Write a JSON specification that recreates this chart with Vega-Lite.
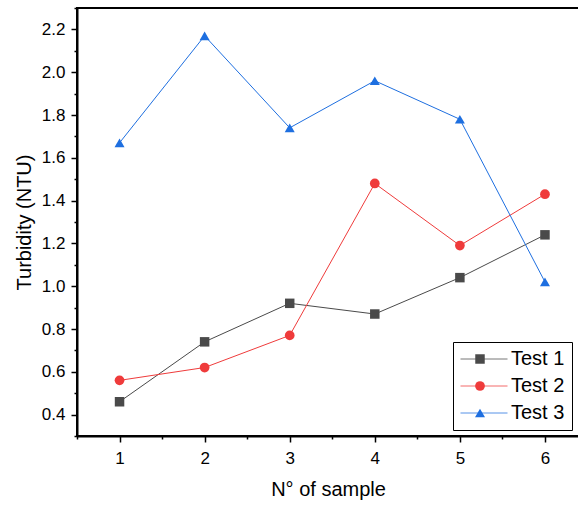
{
  "$schema": "https://vega.github.io/schema/vega-lite/v6.json",
  "width": 502,
  "height": 428,
  "autosize": "none",
  "padding": {"left": 77, "top": 8, "right": 0, "bottom": 70},
  "background": "white",
  "config": {
    "font": "Liberation Sans",
    "view": {"stroke": "black", "strokeWidth": 2},
    "axis": {
      "grid": false,
      "domainColor": "black",
      "domainWidth": 2,
      "tickColor": "black",
      "tickWidth": 1.5,
      "labelColor": "black",
      "labelFontSize": 17,
      "titleColor": "black",
      "titleFontSize": 20,
      "titleFontWeight": "normal"
    }
  },
  "data": {
    "values": [
      {"sample": 1, "series": "Test 1", "turbidity": 0.46},
      {"sample": 2, "series": "Test 1", "turbidity": 0.74},
      {"sample": 3, "series": "Test 1", "turbidity": 0.92},
      {"sample": 4, "series": "Test 1", "turbidity": 0.87},
      {"sample": 5, "series": "Test 1", "turbidity": 1.04},
      {"sample": 6, "series": "Test 1", "turbidity": 1.24},
      {"sample": 1, "series": "Test 2", "turbidity": 0.56},
      {"sample": 2, "series": "Test 2", "turbidity": 0.62},
      {"sample": 3, "series": "Test 2", "turbidity": 0.77},
      {"sample": 4, "series": "Test 2", "turbidity": 1.48},
      {"sample": 5, "series": "Test 2", "turbidity": 1.19},
      {"sample": 6, "series": "Test 2", "turbidity": 1.43},
      {"sample": 1, "series": "Test 3", "turbidity": 1.67},
      {"sample": 2, "series": "Test 3", "turbidity": 2.17},
      {"sample": 3, "series": "Test 3", "turbidity": 1.74},
      {"sample": 4, "series": "Test 3", "turbidity": 1.96},
      {"sample": 5, "series": "Test 3", "turbidity": 1.78},
      {"sample": 6, "series": "Test 3", "turbidity": 1.02}
    ]
  },
  "encoding": {
    "x": {
      "field": "sample",
      "type": "quantitative",
      "scale": {"domain": [0.5, 6.4], "nice": false, "zero": false},
      "axis": {
        "title": "N° of sample",
        "values": [0.5, 1, 1.5, 2, 2.5, 3, 3.5, 4, 4.5, 5, 5.5, 6],
        "labelExpr": "datum.value % 1 === 0 ? format(datum.value, 'd') : ''",
        "tickSize": {"condition": {"test": "datum.value % 1 !== 0", "value": 3}, "value": 6},
        "labelPadding": 8,
        "titlePadding": 13,
        "labelFlush": false
      }
    },
    "y": {
      "field": "turbidity",
      "type": "quantitative",
      "scale": {"domain": [0.3, 2.3], "nice": false, "zero": false},
      "axis": {
        "title": "Turbidity (NTU)",
        "values": [0.3, 0.4, 0.5, 0.6, 0.7, 0.8, 0.9, 1.0, 1.1, 1.2, 1.3, 1.4, 1.5, 1.6, 1.7, 1.8, 1.9, 2.0, 2.1, 2.2, 2.3],
        "labelExpr": "round(datum.value * 10) % 2 === 0 ? format(datum.value, '.1f') : ''",
        "tickSize": {"condition": {"test": "round(datum.value * 10) % 2 === 1", "value": 3}, "value": 6},
        "labelPadding": 6,
        "titlePadding": 7,
        "labelFlush": false
      }
    }
  },
  "layer": [
    {
      "mark": {"type": "line", "strokeWidth": 1},
      "encoding": {
        "stroke": {
          "field": "series",
          "type": "nominal",
          "scale": {"range": ["#4a4a4a", "#ef3b3b", "#1e6fe0"]},
          "legend": {
            "title": null,
            "orient": "none",
            "legendX": 376,
            "legendY": 334,
            "direction": "vertical",
            "padding": 7,
            "symbolType": "M-4.7,0H4.7",
            "symbolSize": 100,
            "symbolStrokeWidth": 1,
            "symbolOpacity": 0.75,
            "symbolOffset": 14,
            "labelOffset": 16,
            "labelFontSize": 20,
            "labelOpacity": 0,
            "rowPadding": 7
          }
        }
      }
    },
    {
      "mark": {"type": "point", "filled": true, "opacity": 1},
      "encoding": {
        "color": {
          "field": "series",
          "type": "nominal",
          "scale": {"domain": ["Test 1", "Test 2", "Test 3"], "range": ["#4a4a4a", "#ef3b3b", "#1e6fe0"]},
          "legend": {
            "title": null,
            "orient": "none",
            "legendX": 376,
            "legendY": 334,
            "direction": "vertical",
            "strokeColor": "black",
            "padding": 7,
            "symbolSize": 100,
            "symbolOffset": 10,
            "labelOffset": 21,
            "labelFontSize": 20,
            "labelColor": "black",
            "rowPadding": 7
          }
        },
        "shape": {
          "field": "series",
          "type": "nominal",
          "scale": {"domain": ["Test 1", "Test 2", "Test 3"], "range": ["square", "circle", "triangle-up"]},
          "legend": null
        },
        "size": {
          "field": "series",
          "type": "ordinal",
          "scale": {"domain": ["Test 1", "Test 2", "Test 3"], "range": [90, 100, 180]},
          "legend": null
        }
      }
    }
  ]
}
